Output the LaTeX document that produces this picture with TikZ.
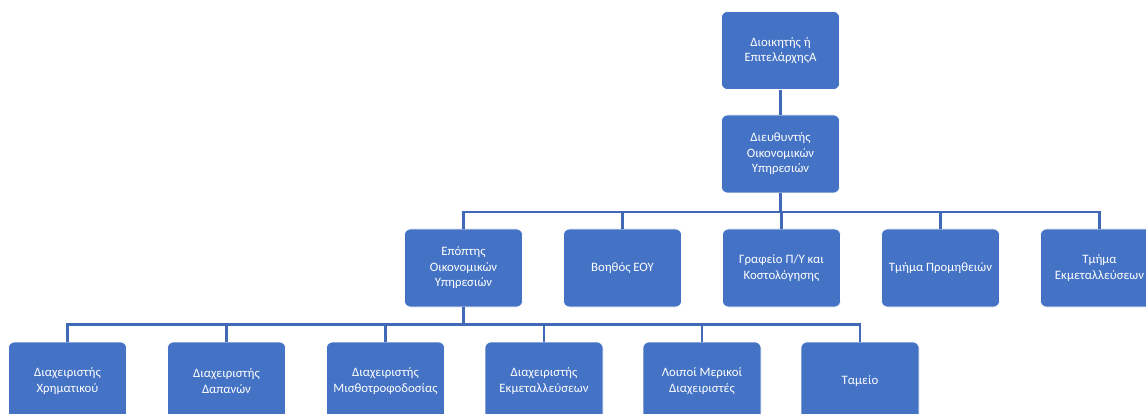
\documentclass[tikz,border=0pt]{standalone}
\usepackage{fontspec}
\setmainfont{Carlito}
\definecolor{boxblue}{HTML}{4472C4}
\definecolor{lineblue}{HTML}{4169B8}
\tikzset{
  orgbox/.style={rectangle, rounded corners=6pt, fill=boxblue, draw=white, line width=0.6pt,
    minimum width=118pt, minimum height=78pt, text=white, align=center,
    font=\fontsize{12.8}{15.5}\selectfont, inner sep=2pt},
  link/.style={draw=lineblue, line width=2.4pt}
}
\begin{document}
\begin{tikzpicture}[x=1pt,y=-1pt]
\useasboundingbox (0,0) rectangle (1146,414);
\clip (0,0) rectangle (1146,414);
% level 1-2
\node[orgbox] (dioik) at (780.5,50.5) {Διοικητής ή\\ΕπιτελάρχηςΑ};
\node[orgbox] (dieuth) at (780.5,154) {Διευθυντής\\Οικονομικών\\Υπηρεσιών};
% level 3
\node[orgbox] (epopt) at (463.5,268) {Επόπτης\\Οικονομικών\\Υπηρεσιών};
\node[orgbox] (voith) at (622.5,268) {Βοηθός ΕΟΥ};
\node[orgbox] (graf) at (781.5,268) {Γραφείο Π/Υ και\\Κοστολόγησης};
\node[orgbox] (prom) at (940.5,268) {Τμήμα Προμηθειών};
\node[orgbox] (ekm) at (1099.5,268) {Τμήμα\\Εκμεταλλεύσεων};
% level 4
\node[orgbox] (xrim) at (67.5,381) {Διαχειριστής\\Χρηματικού};
\node[orgbox] (dap) at (226.5,381) {Διαχειριστής\\Δαπανών};
\node[orgbox] (misth) at (385.5,381) {Διαχειριστής\\Μισθοτροφοδοσίας};
\node[orgbox] (dekm) at (544,381) {Διαχειριστής\\Εκμεταλλεύσεων};
\node[orgbox] (loip) at (702,381) {Λοιποί Μερικοί\\Διαχειριστές};
\node[orgbox] (tam) at (860,381) {Ταμείο};
% connectors
\draw[link] (dioik.south) -- (dieuth.north);
\foreach \c in {epopt,voith,graf,prom,ekm}
  \draw[link] (dieuth.south) -- ++(0,19) -| (\c.north);
\foreach \c in {xrim,dap,misth,dekm,loip,tam}
  \draw[link] (epopt.south) -- ++(0,17) -| (\c.north);
\end{tikzpicture}
\end{document}
